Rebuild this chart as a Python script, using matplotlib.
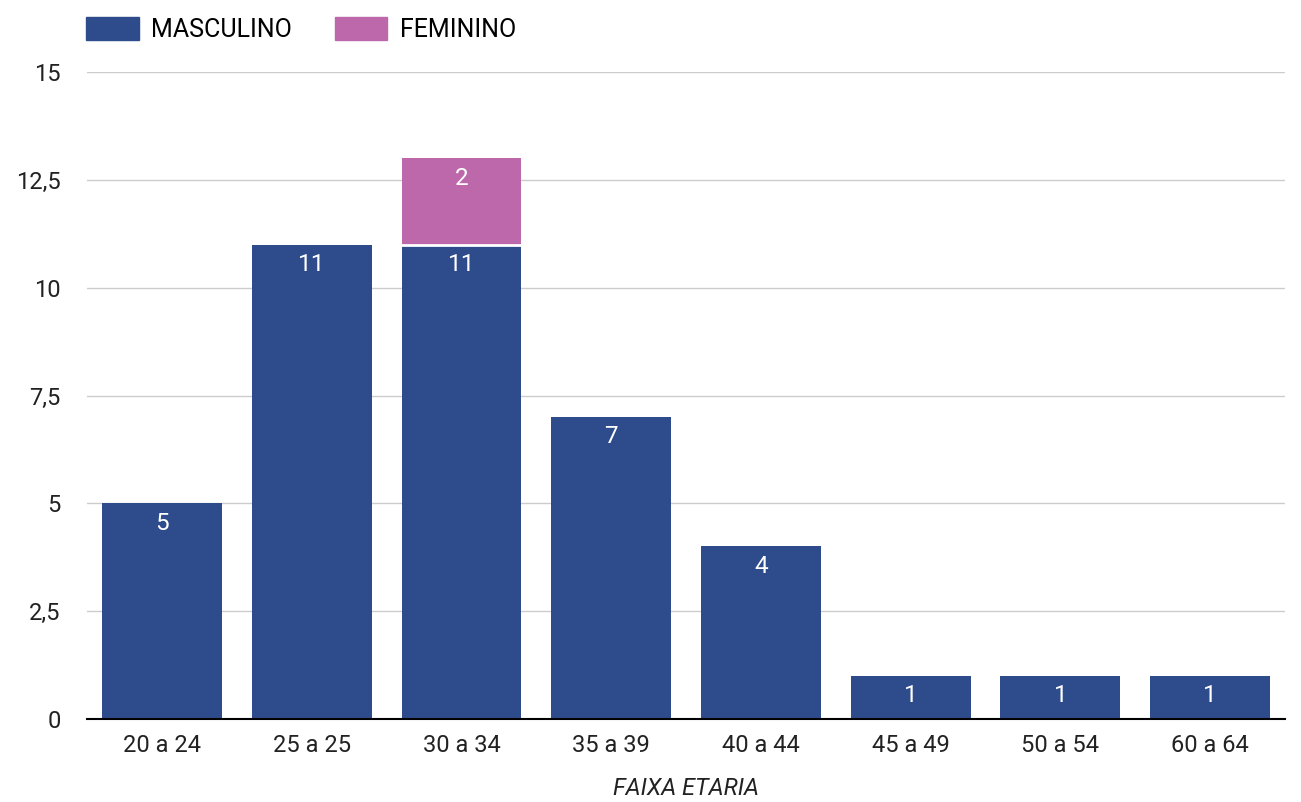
import matplotlib.pyplot as plt
from matplotlib.patches import Patch
from matplotlib.ticker import FuncFormatter

faixas = ["20 a 24", "25 a 25", "30 a 34", "35 a 39", "40 a 44", "45 a 49", "50 a 54", "60 a 64"]
masculino = [5, 11, 11, 7, 4, 1, 1, 1]
feminino = [0, 0, 2, 0, 0, 0, 0, 0]
y_ticks = [0, 2.5, 5, 7.5, 10, 12.5, 15]

cor_masc = "#2E4C8C"
cor_fem = "#BD68AB"

plt.rcParams["font.family"] = ["Roboto", "DejaVu Sans"]

fig = plt.figure(figsize=(13.01, 8.02), dpi=100)
ax = fig.add_axes([0.0669, 0.1035, 0.9208, 0.8067])

x = list(range(len(faixas)))
ax.bar(x, masculino, width=0.8, color=cor_masc, linewidth=0, zorder=3)
ax.bar(x, feminino, width=0.8, bottom=masculino, color=cor_fem, linewidth=0, zorder=3)
# thin white separator between stacked parts
for i in x:
    if feminino[i] > 0:
        ax.plot([i - 0.4, i + 0.4], [masculino[i], masculino[i]], color="white", lw=2, zorder=4)

for i in x:
    ax.annotate(str(masculino[i]), (i, masculino[i]), xytext=(0, -6), textcoords="offset points",
                ha="center", va="top", color="white", fontsize=17.5, zorder=5)
    if feminino[i] > 0:
        ax.annotate(str(feminino[i]), (i, masculino[i] + feminino[i]), xytext=(0, -6),
                    textcoords="offset points", ha="center", va="top", color="white",
                    fontsize=17.5, zorder=5)

ax.set_xlim(-0.5, len(faixas) - 0.5)
ax.set_ylim(0, 15)
ax.set_yticks(y_ticks)
ax.yaxis.set_major_formatter(FuncFormatter(lambda v, p: ("%g" % v).replace(".", ",")))
ax.set_xticks(x)
ax.set_xticklabels(faixas)
ax.tick_params(axis="both", length=0, labelsize=17, colors="#222222")
ax.tick_params(axis="x", pad=11)
ax.tick_params(axis="y", pad=19)
ax.grid(axis="y", color="#CCCCCC", linewidth=1, zorder=0)
for s in ["top", "right", "left"]:
    ax.spines[s].set_visible(False)
ax.spines["bottom"].set_color("#000000")
ax.spines["bottom"].set_linewidth(1.5)
ax.spines["bottom"].set_zorder(6)

ax.set_xlabel("FAIXA ETARIA", fontsize=17, style="italic", labelpad=14, color="#222222")

handles = [Patch(color=cor_masc, label="MASCULINO"), Patch(color=cor_fem, label="FEMININO")]
fig.legend(handles=handles, loc="upper left", bbox_to_anchor=(0.051, 1.004), ncol=2, frameon=False,
           fontsize=18, handlelength=2.1, handleheight=1.05, columnspacing=1.7, handletextpad=0.5,
           borderaxespad=0.4)

fig.savefig("out.png", dpi=100)
